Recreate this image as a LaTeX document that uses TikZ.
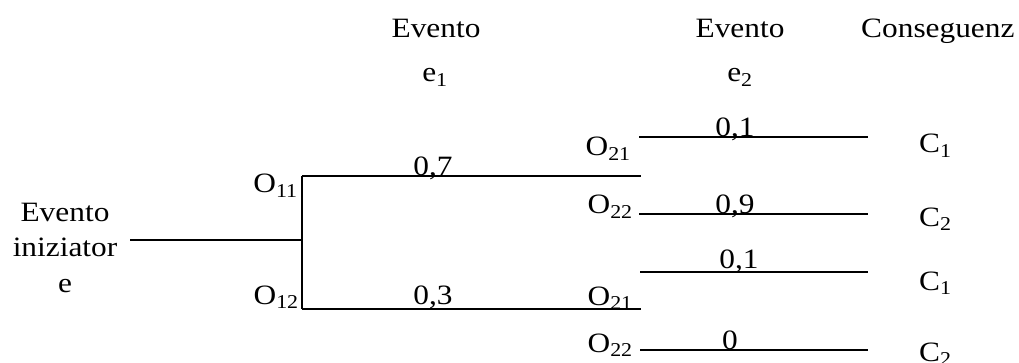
\documentclass[tikz,border=0pt]{standalone}
\usepackage{fontspec}
\setmainfont{Liberation Serif}
\usetikzlibrary{positioning}

\begin{document}
\begin{tikzpicture}[x=1pt,y=1pt,font=\fontsize{28}{32}\selectfont,
 txt/.style={inner sep=0pt,xscale=1.12,transform shape},
 lbl/.style={txt,anchor=base},
 olbl/.style={txt,anchor=base east},
 clbl/.style={txt,anchor=base west},
 branch/.style={line width=2pt,black}]
\useasboundingbox (0,0) rectangle (1019,-363);

% headers
\node[lbl] (h1) at (436,-38) {Evento};
\node[lbl] (h1e) at (435,-82) {e\textsubscript{1}};
\node[lbl] (h2) at (740,-38) {Evento};
\node[lbl] (h2e) at (740,-82) {e\textsubscript{2}};
\node[clbl] (hc) at (861,-38) {Conseguenz};

% initiating event
\node[lbl] (ini1) at (65,-222) {Evento};
\node[lbl] (ini2) at (65,-257) {iniziator};
\node[lbl] (ini3) at (65,-292) {e};

% tree points
\coordinate (root) at (130,-240);
\coordinate (split) at (302,-240);
\coordinate (s11) at (302,-176);
\coordinate (s12) at (302,-309);
\coordinate (e11) at (641,-176);
\coordinate (e12) at (641,-309);
\coordinate (a1) at (639,-137);  \coordinate (b1) at (868,-137);
\coordinate (a2) at (639,-214);  \coordinate (b2) at (868,-214);
\coordinate (a3) at (640,-272);  \coordinate (b3) at (868,-272);
\coordinate (a4) at (640,-350);  \coordinate (b4) at (868,-350);

\draw[branch] (root) -- (split);
\draw[branch] (s11) -- (s12);
\draw[branch] (s11) -- (e11);
\draw[branch] (s12) -- (e12);
\draw[branch] (a1) -- (b1);
\draw[branch] (a2) -- (b2);
\draw[branch] (a3) -- (b3);
\draw[branch] (a4) -- (b4);

% outcomes
\node[olbl] (o11) at (298,-193) {O\textsubscript{11}};
\node[olbl] (o12) at (299,-304) {O\textsubscript{12}};
\node[olbl] (o21a) at (631,-156) {O\textsubscript{21}};
\node[olbl] (o22a) at (633,-214) {O\textsubscript{22}};
\node[olbl] (o21b) at (633,-305) {O\textsubscript{21}};
\node[olbl] (o22b) at (633,-352) {O\textsubscript{22}};

% probabilities
\node[lbl] (p11) at (433,-176) {0,7};
\node[lbl] (p12) at (433,-304) {0,3};
\node[lbl] (p21) at (735,-137) {0,1};
\node[lbl] (p22) at (735,-214) {0,9};
\node[lbl] (p23) at (739,-268) {0,1};
\node[lbl] (p24) at (730,-349) {0};

% consequences
\node[clbl] (c1a) at (919,-153) {C\textsubscript{1}};
\node[clbl] (c2a) at (919,-226) {C\textsubscript{2}};
\node[clbl] (c1b) at (919,-290) {C\textsubscript{1}};
\node[clbl] (c2b) at (919,-361) {C\textsubscript{2}};
\end{tikzpicture}
\end{document}
